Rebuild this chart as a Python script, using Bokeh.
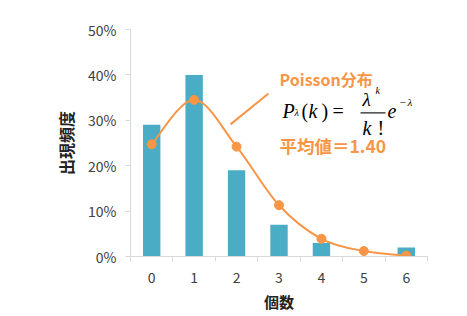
from bokeh.plotting import figure
from bokeh.models import FixedTicker, NumeralTickFormatter, Label
from bokeh.embed import file_html
from bokeh.resources import INLINE

# ---- data ----
counts = [0, 1, 2, 3, 4, 5, 6]
observed = [0.29, 0.40, 0.19, 0.07, 0.03, 0.0, 0.02]
poisson = [0.247, 0.345, 0.242, 0.113, 0.039, 0.012, 0.002]
y_ticks = [0.0, 0.1, 0.2, 0.3, 0.4, 0.5]
x_label = "個数"
y_label = "出現頻度"
title_txt = "Poisson分布"
mean_txt = "平均値＝1.40"

BLUE = "#4BACC6"
ORANGE = "#F79646"
AXIS = "#D9D9D9"
TXT = "#404040"
JP = "Noto Sans CJK JP"
SERIF = "Liberation Serif"

p = figure(width=459, height=314, output_backend="svg", toolbar_location=None,
           x_range=(-0.5, 6.5), y_range=(0, 0.5),
           min_border_left=130, min_border_right=32, min_border_top=29, min_border_bottom=55)
p.grid.visible = False
p.outline_line_color = None
p.background_fill_color = "white"
p.border_fill_color = "white"

# axes
p.xaxis.ticker = FixedTicker(ticks=counts, minor_ticks=[c - 0.5 for c in counts] + [counts[-1] + 0.5])
p.xaxis.major_tick_line_color = None
p.xaxis.major_tick_out = 5
p.xaxis.major_tick_in = 0
p.xaxis.minor_tick_line_color = AXIS
p.xaxis.minor_tick_out = 5
p.xaxis.minor_tick_in = 0
p.xaxis.major_label_standoff = 10
p.xaxis.axis_line_color = AXIS
p.xaxis.major_label_text_font = JP
p.xaxis.major_label_text_font_size = "14px"
p.xaxis.major_label_text_color = TXT
p.xaxis.axis_label = x_label
p.xaxis.axis_label_text_font = JP
p.xaxis.axis_label_text_font_size = "15px"
p.xaxis.axis_label_text_font_style = "bold"
p.xaxis.axis_label_text_color = "#222222"
p.xaxis.axis_label_standoff = 5

p.yaxis.ticker = FixedTicker(ticks=y_ticks)
p.yaxis.formatter = NumeralTickFormatter(format="0%")
p.yaxis.minor_tick_line_color = None
p.yaxis.major_tick_line_color = AXIS
p.yaxis.major_tick_out = 5
p.yaxis.major_tick_in = 0
p.yaxis.axis_line_color = AXIS
p.yaxis.major_label_standoff = 9
p.yaxis.major_label_text_font = JP
p.yaxis.major_label_text_font_size = "14px"
p.yaxis.major_label_text_color = TXT
p.yaxis.axis_label = y_label
p.yaxis.axis_label_text_font = JP
p.yaxis.axis_label_text_font_size = "16px"
p.yaxis.axis_label_text_font_style = "bold"
p.yaxis.axis_label_text_color = "#222222"
p.yaxis.axis_label_standoff = 7

# bars
p.vbar(x=counts, top=observed, width=0.41, fill_color=BLUE, line_color=None)

# smoothed curve (Catmull-Rom style Bezier through the data points)
n = len(counts)
x0, y0, x1, y1, cx0, cy0, cx1, cy1 = [], [], [], [], [], [], [], []
for i in range(n - 1):
    im = max(i - 1, 0)
    ip2 = min(i + 2, n - 1)
    x0.append(counts[i]); y0.append(poisson[i])
    x1.append(counts[i + 1]); y1.append(poisson[i + 1])
    cx0.append(counts[i] + (counts[i + 1] - counts[im]) / 6)
    cy0.append(poisson[i] + (poisson[i + 1] - poisson[im]) / 6)
    cx1.append(counts[i + 1] - (counts[ip2] - counts[i]) / 6)
    cy1.append(poisson[i + 1] - (poisson[ip2] - poisson[i]) / 6)
p.bezier(x0=x0, y0=y0, x1=x1, y1=y1, cx0=cx0, cy0=cy0, cx1=cx1, cy1=cy1,
         line_color=ORANGE, line_width=2)
p.scatter(x=counts, y=poisson, size=9, fill_color=ORANGE, line_color=ORANGE)

# helpers: reference pixel -> data coordinates for annotation placement
def dx(px):
    return (px - 130) / (297 / 7) - 0.5

def dy(py):
    return (256.7 - py) / 456

# leader line
p.segment(x0=[dx(230)], y0=[dy(124)], x1=[dx(268)], y1=[dy(93)], line_color=ORANGE, line_width=2)

def lab(text, px, py, size, font=SERIF, style="italic", color="black", baseline="alphabetic", align="left"):
    p.add_layout(Label(x=dx(px), y=dy(py), text=text, text_font=font, text_font_size=size,
                       text_font_style=style, text_color=color, text_baseline=baseline,
                       text_align=align))

lab(title_txt, 279, 78, "16px", font=JP, style="bold", color=ORANGE, baseline="middle")
lab(mean_txt, 279, 145, "17.5px", font=JP, style="bold", color=ORANGE, baseline="middle")

# formula  P_λ(k) = λ^k / k! e^{-λ}
S = 6  # rendered text sits a few px below the given baseline
lab("P", 282, 117 - S, "20px")
lab("λ", 294, 118 - S, "10px")
lab("(", 301, 117 - S, "20px", style="normal")
lab("k", 308, 117 - S, "20px")
lab(")", 321, 117 - S, "20px", style="normal")
lab("=", 332, 117 - S, "20px", style="normal")
lab("λ", 362, 105 - S, "19px")
lab("k", 375, 96 - S, "10px")
p.line(x=[dx(360), dx(385)], y=[dy(112.5), dy(112.5)], line_color="#222222", line_width=1.3)
lab("k", 362, 134 - S, "20px")
lab("!", 377, 134 - S, "20px", style="normal")
lab("e", 387, 117 - S, "20px")
lab("−", 399, 108 - S, "11px", style="normal")
lab("λ", 407, 108 - S, "11px")

open("out.html", "w").write(file_html(p, INLINE))
